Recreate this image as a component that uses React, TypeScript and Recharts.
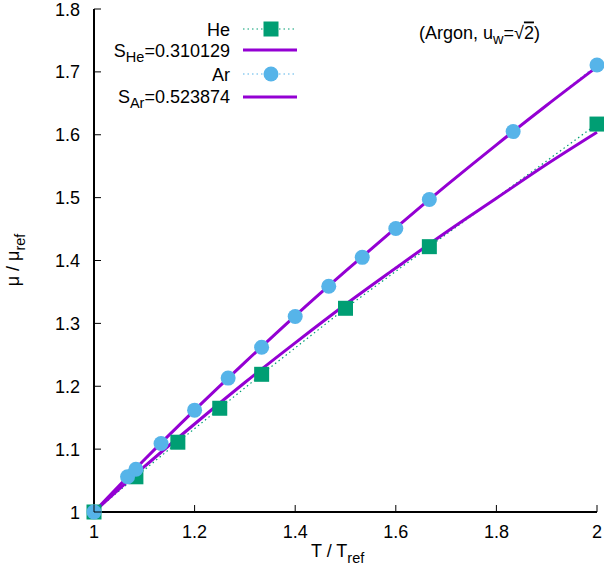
import React from "react";
import { ComposedChart, Line, XAxis, YAxis } from "recharts";

const heT = [1, 1.0833, 1.1667, 1.25, 1.3333, 1.5, 1.6667, 2];
const heMu = [1, 1.056, 1.111, 1.165, 1.219, 1.324, 1.422, 1.617];

const arT = [1, 1.0667, 1.0833, 1.1333, 1.2, 1.2667, 1.3333, 1.4, 1.4667, 1.5333, 1.6, 1.6667, 1.8333, 2];
const arMu = [1, 1.056, 1.068, 1.109, 1.162, 1.213, 1.262, 1.311, 1.359, 1.405, 1.451, 1.497, 1.605, 1.711];

const fitT = [1, 1.1, 1.2, 1.3, 1.4, 1.5, 1.6, 1.7, 1.8, 1.9, 2];
const fitHe = [1, 1.072, 1.14, 1.206, 1.269, 1.33, 1.388, 1.445, 1.499, 1.553, 1.604];
const fitAr = [1, 1.083, 1.162, 1.238, 1.312, 1.383, 1.452, 1.519, 1.584, 1.647, 1.708];

const xTicks = [1, 1.2, 1.4, 1.6, 1.8, 2];
const yTicks = [1, 1.1, 1.2, 1.3, 1.4, 1.5, 1.6, 1.7, 1.8];

const W = 604;
const H = 578;
const FONT = "'Liberation Sans', Arial, sans-serif";
const FS = 18;
const SUB = 14.5;
const HE_COLOR = "#009e73";
const AR_COLOR = "#56b4e9";
const FIT_COLOR = "#9400d3";

const heData = heT.map((t, i) => ({ t, mu: heMu[i] }));
const arData = arT.map((t, i) => ({ t, mu: arMu[i] }));
const fitHeData = fitT.map((t, i) => ({ t, mu: fitHe[i] }));
const fitArData = fitT.map((t, i) => ({ t, mu: fitAr[i] }));

const fmt = (v: number) => String(Number(v.toFixed(1)));

function BottomTick(props: any) {
  const { x, y, payload } = props;
  return (
    <g>
      <line x1={x} x2={x} y1={y} y2={y - 7} stroke="#000" strokeWidth={1} />
      <text x={x} y={y + 25.5} textAnchor="middle" fontSize={FS} fontFamily={FONT} fill="#000">
        {fmt(payload.value)}
      </text>
    </g>
  );
}

function TopTick(props: any) {
  const { x, y } = props;
  return <line x1={x} x2={x} y1={y} y2={y + 7} stroke="#000" strokeWidth={1} />;
}

function LeftTick(props: any) {
  const { x, y, payload } = props;
  return (
    <g>
      <line x1={x} x2={x + 7} y1={y} y2={y} stroke="#000" strokeWidth={1} />
      <text x={x - 14} y={y + 6.5} textAnchor="end" fontSize={FS} fontFamily={FONT} fill="#000">
        {fmt(payload.value)}
      </text>
    </g>
  );
}

function RightTick(props: any) {
  const { x, y } = props;
  return <line x1={x} x2={x - 7} y1={y} y2={y} stroke="#000" strokeWidth={1} />;
}

function SquareDot(props: any) {
  const { cx, cy } = props;
  if (cx == null || cy == null) return null;
  return <rect x={cx - 7.5} y={cy - 7.5} width={15} height={15} fill={HE_COLOR} />;
}

function CircleDot(props: any) {
  const { cx, cy } = props;
  if (cx == null || cy == null) return null;
  return <circle cx={cx} cy={cy} r={7.5} fill={AR_COLOR} />;
}

function Overlay() {
  const txt = { fontSize: FS, fontFamily: FONT, fill: "#000" };
  return (
    <svg width={W} height={H} style={{ position: "absolute", left: 0, top: 0, pointerEvents: "none" }}>
      {/* legend */}
      <text x={230} y={35.5} textAnchor="end" {...txt}>He</text>
      <line x1={243} x2={296} y1={29} y2={29} stroke={HE_COLOR} strokeWidth={1.2} strokeDasharray="1.5 3" />
      <rect x={263.5} y={21.5} width={15} height={15} fill={HE_COLOR} />

      <text x={230} y={57} textAnchor="end" {...txt}>
        S<tspan fontSize={SUB} dy={5}>He</tspan>
        <tspan dy={-5}>=0.310129</tspan>
      </text>
      <line x1={243} x2={297} y1={50} y2={50} stroke={FIT_COLOR} strokeWidth={3} />

      <text x={230} y={80.5} textAnchor="end" {...txt}>Ar</text>
      <line x1={243} x2={296} y1={74} y2={74} stroke={AR_COLOR} strokeWidth={1.2} strokeDasharray="1.5 3" />
      <circle cx={271} cy={74} r={7.5} fill={AR_COLOR} />

      <text x={230} y={103} textAnchor="end" {...txt}>
        S<tspan fontSize={SUB} dy={5}>Ar</tspan>
        <tspan dy={-5}>=0.523874</tspan>
      </text>
      <line x1={243} x2={297} y1={97} y2={97} stroke={FIT_COLOR} strokeWidth={3} />

      {/* annotation */}
      <text x={419} y={38.5} {...txt}>
        (Argon, u<tspan fontSize={SUB} dy={5}>w</tspan>
        <tspan dy={-5}>=√</tspan>
        <tspan textDecoration="overline">2</tspan>)
      </text>

      {/* axis titles */}
      <text x={311} y={557} {...txt}>
        T / T<tspan fontSize={SUB} dy={6}>ref</tspan>
      </text>
      <text x={0} y={0} textAnchor="middle" transform="translate(19,260) rotate(-90)" {...txt}>
        μ / μ<tspan fontSize={SUB} dy={6}>ref</tspan>
      </text>
    </svg>
  );
}

export default function App() {
  return (
    <div style={{ position: "absolute", left: 0, top: 0, width: W, height: H, background: "#fff" }}>
      <ComposedChart width={W} height={H} margin={{ top: 9, right: 7, bottom: 0, left: 0 }}>
        <XAxis
          dataKey="t"
          type="number"
          domain={[1, 2]}
          ticks={xTicks}
          height={66}
          tickSize={0}
          tickMargin={0}
          tick={<BottomTick />}
          axisLine={{ stroke: "#000", strokeWidth: 2 }}
          tickLine={false}
        />
        <XAxis
          xAxisId="top"
          orientation="top"
          dataKey="t"
          type="number"
          domain={[1, 2]}
          ticks={xTicks}
          height={0}
          tickSize={0}
          tickMargin={0}
          tick={<TopTick />}
          axisLine={{ stroke: "#000", strokeWidth: 2 }}
          tickLine={false}
        />
        <YAxis
          type="number"
          domain={[1, 1.8]}
          ticks={yTicks}
          width={94}
          tickSize={0}
          tickMargin={0}
          tick={<LeftTick />}
          axisLine={{ stroke: "#000", strokeWidth: 2 }}
          tickLine={false}
        />
        <YAxis
          yAxisId="right"
          orientation="right"
          type="number"
          domain={[1, 1.8]}
          ticks={yTicks}
          width={0}
          tickSize={0}
          tickMargin={0}
          tick={<RightTick />}
          axisLine={{ stroke: "#000", strokeWidth: 2 }}
          tickLine={false}
        />
        <Line
          data={heData}
          dataKey="mu"
          type="linear"
          stroke={HE_COLOR}
          strokeWidth={1.2}
          strokeDasharray="1.5 3"
          dot={<SquareDot />}
          activeDot={false}
          isAnimationActive={false}
        />
        <Line
          data={fitHeData}
          dataKey="mu"
          type="monotone"
          stroke={FIT_COLOR}
          strokeWidth={3}
          dot={false}
          activeDot={false}
          isAnimationActive={false}
        />
        <Line
          data={arData}
          dataKey="mu"
          type="linear"
          stroke={AR_COLOR}
          strokeWidth={1.2}
          strokeDasharray="1.5 3"
          dot={<CircleDot />}
          activeDot={false}
          isAnimationActive={false}
        />
        <Line
          data={fitArData}
          dataKey="mu"
          type="monotone"
          stroke={FIT_COLOR}
          strokeWidth={3}
          dot={false}
          activeDot={false}
          isAnimationActive={false}
        />
      </ComposedChart>
      <Overlay />
    </div>
  );
}
